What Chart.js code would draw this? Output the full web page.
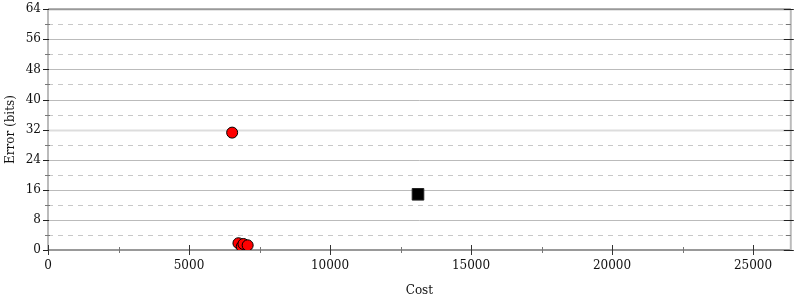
<!DOCTYPE html>
<html>
<head>
<meta charset="utf-8">
<script src="https://cdn.jsdelivr.net/npm/chart.js@4"></script>
<style>
html,body{margin:0;padding:0;background:#fff;}
#wrap{width:800px;height:300px;position:relative;}
</style>
</head>
<body>
<div id="wrap"><canvas id="c" width="800" height="300"></canvas></div>
<script>
// ---- data ----
const redCost = [6530, 6753, 6870, 6930, 7080];
const redError = [31.2, 1.8, 0.9, 1.6, 1.25];
const blackCost = [13120];
const blackError = [14.8];
const xMax = 26340;
const yMax = 64;
const xTicks = [0, 2500, 5000, 7500, 10000, 12500, 15000, 17500, 20000, 22500, 25000];
const yTicks = [0, 4, 8, 12, 16, 20, 24, 28, 32, 36, 40, 44, 48, 52, 56, 60, 64];
const xTitle = 'Cost';
const yTitle = 'Error (bits)';

const FONT = "'DejaVu Serif', serif";

const axisDeco = {
  id: 'axisDeco',
  beforeDatasetsDraw(chart) {
    const {ctx, chartArea: a, scales: {x, y}} = chart;
    ctx.save();
    // horizontal grid
    y.ticks.forEach(t => {
      const v = t.value;
      if (v <= 0 || v >= yMax) return;
      const py = Math.round(y.getPixelForValue(v)) + 0.5;
      ctx.beginPath();
      if (v === 32) {
        ctx.setLineDash([]); ctx.strokeStyle = '#dddddd'; ctx.lineWidth = 2;
      } else if (v % 8 === 0) {
        ctx.setLineDash([]); ctx.strokeStyle = '#bbbbbb'; ctx.lineWidth = 1;
      } else {
        ctx.setLineDash([5, 5]); ctx.strokeStyle = '#c8c8c8'; ctx.lineWidth = 1;
      }
      ctx.moveTo(a.left, py); ctx.lineTo(a.right, py); ctx.stroke();
    });
    ctx.setLineDash([]);
    // frame
    ctx.lineWidth = 2;
    ctx.strokeStyle = '#999999';
    ctx.beginPath(); ctx.moveTo(a.left, a.top); ctx.lineTo(a.right, a.top); ctx.stroke();
    ctx.beginPath(); ctx.moveTo(a.left, a.bottom); ctx.lineTo(a.right, a.bottom); ctx.stroke();
    ctx.strokeStyle = '#bbbbbb';
    ctx.beginPath(); ctx.moveTo(a.left, a.top); ctx.lineTo(a.left, a.bottom); ctx.stroke();
    ctx.beginPath(); ctx.moveTo(a.right, a.top); ctx.lineTo(a.right, a.bottom); ctx.stroke();
    // y ticks
    ctx.lineWidth = 1;
    y.ticks.forEach(t => {
      const v = t.value;
      const py = Math.round(y.getPixelForValue(v)) + 0.5;
      ctx.beginPath();
      if (v % 8 === 0) {
        ctx.strokeStyle = '#222';
        ctx.moveTo(a.left - 5, py); ctx.lineTo(a.left + 1, py);
        ctx.moveTo(a.right - 7, py); ctx.lineTo(a.right + 3, py);
      } else {
        ctx.strokeStyle = '#777';
        ctx.moveTo(a.left - 3, py); ctx.lineTo(a.left + 2, py);
        ctx.moveTo(a.right - 5, py); ctx.lineTo(a.right, py);
      }
      ctx.stroke();
    });
    // x ticks
    x.ticks.forEach(t => {
      const v = t.value;
      const px = Math.round(x.getPixelForValue(v)) + 0.5;
      ctx.beginPath();
      if (v % 5000 === 0) {
        ctx.strokeStyle = '#333';
        ctx.moveTo(px, a.bottom - 5); ctx.lineTo(px, a.bottom + 5);
      } else {
        ctx.strokeStyle = '#777';
        ctx.moveTo(px, a.bottom - 3); ctx.lineTo(px, a.bottom + 3);
      }
      ctx.stroke();
    });
    ctx.restore();
  }
};

new Chart(document.getElementById('c'), {
  type: 'scatter',
  data: {
    datasets: [
      {
        data: redCost.map((c, i) => ({x: c, y: redError[i]})),
        backgroundColor: '#ff0000',
        borderColor: '#000000',
        borderWidth: 1,
        pointRadius: 5.5,
        pointStyle: 'circle'
      },
      {
        data: blackCost.map((c, i) => ({x: c, y: blackError[i]})),
        backgroundColor: '#000000',
        borderColor: '#222222',
        borderWidth: 1,
        pointRadius: 8.2,
        pointStyle: 'rect'
      }
    ]
  },
  options: {
    responsive: false,
    animation: false,
    events: [],
    layout: {padding: {top: 8, right: 4, left: 0, bottom: 0}},
    plugins: {legend: {display: false}, tooltip: {enabled: false}},
    scales: {
      x: {
        type: 'linear',
        min: 0,
        max: xMax,
        grid: {display: false, drawTicks: false},
        border: {display: false},
        afterBuildTicks(s) { s.ticks = xTicks.map(v => ({value: v})); },
        afterFit(s) { s.height = 50; s.paddingLeft = 0; s.paddingRight = 0; },
        ticks: {
          autoSkip: false,
          maxRotation: 0,
          minRotation: 0,
          padding: 9,
          color: '#111',
          font: {family: FONT, size: 12},
          callback: v => (v % 5000 === 0 ? String(v) : '')
        },
        title: {display: true, text: xTitle, color: '#111', font: {family: FONT, size: 12}, padding: {top: 0, bottom: 2}}
      },
      y: {
        type: 'linear',
        min: 0,
        max: yMax,
        grid: {display: false, drawTicks: false},
        border: {display: false},
        afterBuildTicks(s) { s.ticks = yTicks.map(v => ({value: v})); },
        afterFit(s) { s.width = 48; s.paddingTop = 0; s.paddingBottom = 0; },
        ticks: {
          autoSkip: false,
          padding: 7,
          color: '#111',
          font: {family: FONT, size: 12},
          callback: v => (v % 8 === 0 ? String(v) : '')
        },
        title: {display: true, text: yTitle, color: '#111', font: {family: FONT, size: 12}, padding: {top: 4, bottom: 0}}
      }
    }
  },
  plugins: [axisDeco]
});
</script>
</body>
</html>
